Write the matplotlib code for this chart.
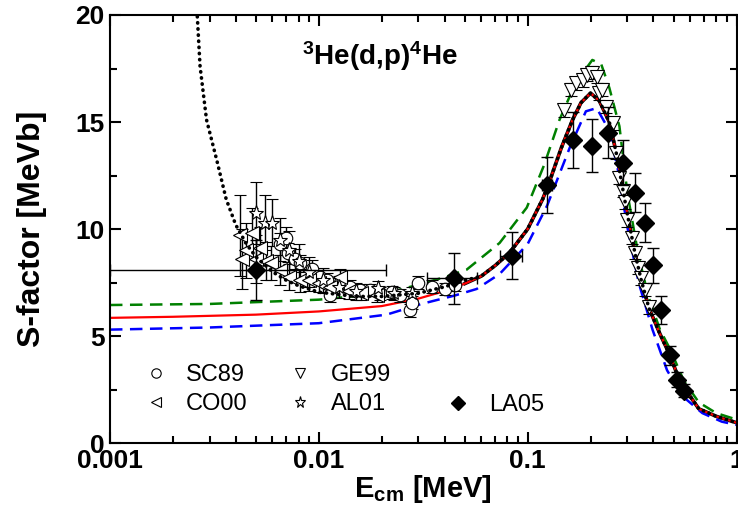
import numpy as np
import matplotlib
matplotlib.use("Agg")
import matplotlib.pyplot as plt
from matplotlib.ticker import FixedLocator, MultipleLocator, LogLocator, NullFormatter

plt.rcParams['font.family'] = ['Liberation Sans', 'DejaVu Sans']
plt.rcParams['mathtext.fontset'] = 'custom'
plt.rcParams['mathtext.rm'] = 'Liberation Sans:bold'
plt.rcParams['mathtext.default'] = 'rm'

# bare S-factor (red solid)
bare_e = [0.001, 0.002, 0.005, 0.01, 0.02, 0.03, 0.04, 0.05, 0.06, 0.07, 0.082, 0.1,
          0.118, 0.127, 0.145, 0.164, 0.18, 0.2, 0.22, 0.246, 0.265, 0.285, 0.3,
          0.326, 0.35, 0.381, 0.43, 0.48, 0.52, 0.56, 0.66, 0.8, 1.0]
bare_s = [5.85, 5.9, 6.0, 6.15, 6.4, 6.75, 7.1, 7.45, 7.8, 8.3, 8.9, 10.0,
          11.4, 12.2, 13.8, 15.1, 15.9, 16.35, 16.0, 15.0, 13.6, 11.9, 10.7,
          8.9, 7.6, 6.3, 5.1, 4.1, 3.2, 2.6, 1.6, 1.25, 0.95]

# upper / lower curves (dashed)
green_e = [0.001, 0.003, 0.01, 0.021, 0.03, 0.04, 0.051, 0.0734, 0.099, 0.12, 0.142,
           0.164, 0.184, 0.204, 0.225, 0.246, 0.275, 0.3, 0.34, 0.38, 0.43, 0.48,
           0.56, 0.66, 0.8, 1.0]
green_s = [6.45, 6.5, 6.7, 7.0, 7.4, 7.75, 8.1, 9.35, 11.0, 13.0, 15.1,
           16.5, 17.3, 17.9, 17.7, 16.6, 14.8, 11.7, 8.7, 6.8, 5.3, 4.4,
           2.9, 1.9, 1.4, 1.1]
blue_e = [0.001, 0.003, 0.01, 0.0211, 0.031, 0.045, 0.057, 0.0734, 0.1, 0.124, 0.159,
          0.19, 0.214, 0.246, 0.27, 0.3, 0.34, 0.396, 0.465, 0.55, 0.686, 0.85, 1.0]
blue_s = [5.3, 5.4, 5.6, 6.0, 6.5, 6.9, 7.2, 7.9, 9.3, 11.1, 13.8,
          15.5, 15.65, 14.6, 12.8, 10.1, 7.5, 5.3, 3.4, 2.2, 1.4, 1.0, 0.85]

# screened S-factor (black dotted), low-energy part
scr_e = [0.0026, 0.0027, 0.0029, 0.00325, 0.0036, 0.004, 0.0045, 0.005, 0.006, 0.007,
         0.008, 0.01, 0.015, 0.02, 0.03, 0.04, 0.05]
scr_s = [20.5, 17.6, 15.1, 13.2, 11.4, 10.2, 9.3, 8.7, 8.0, 7.6,
         7.35, 7.05, 6.85, 6.85, 7.0, 7.3, 7.6]

# data sets
sc_e = [0.0065, 0.0070, 0.0071, 0.0077, 0.0081, 0.0093, 0.0101, 0.0110, 0.0113, 0.0126,
        0.0141, 0.0157, 0.0175, 0.0196, 0.0225, 0.0245, 0.0272, 0.028, 0.0297, 0.035,
        0.040, 0.045]
sc_s = [9.3, 9.6, 8.9, 8.6, 8.4, 8.15, 7.75, 7.6, 6.9, 7.5,
        7.3, 7.15, 7.15, 7.0, 7.05, 6.9, 6.2, 6.55, 7.5, 7.3,
        7.2, 7.4]
sc_err = [0.5, 0.5, 0.45, 0.45, 0.4, 0.4, 0.35, 0.35, 0.3, 0.3,
          0.3, 0.3, 0.3, 0.3, 0.3, 0.3, 0.3, 0.3, 0.3, 0.3,
          0.3, 0.3]

co_e = [0.0042, 0.0043, 0.0045, 0.0048, 0.0050, 0.0052, 0.0056, 0.0059, 0.0065, 0.0072,
        0.0081, 0.0090, 0.0100, 0.0113, 0.0126, 0.014, 0.016, 0.019]
co_s = [9.7, 8.6, 9.0, 9.8, 8.6, 9.1, 8.5, 8.4, 8.1, 7.75,
        7.6, 7.6, 7.5, 7.3, 7.75, 7.1, 7.0, 6.9]
co_err = [1.9, 1.4, 1.3, 1.2, 1.1, 1.0, 0.9, 0.8, 0.7, 0.6,
          0.55, 0.5, 0.45, 0.4, 0.4, 0.35, 0.3, 0.3]

ge_e = [0.150, 0.162, 0.171, 0.184, 0.193, 0.204, 0.214, 0.22, 0.226, 0.238,
        0.255, 0.265, 0.275, 0.285, 0.291, 0.298, 0.315, 0.326, 0.336, 0.35,
        0.363, 0.381]
ge_s = [15.55, 16.5, 16.8, 16.95, 17.2, 17.3, 17.1, 16.35, 16.5, 15.7,
        14.95, 13.55, 12.4, 11.8, 11.25, 10.4, 9.6, 8.9, 8.2, 7.7,
        7.15, 6.35]
ge_err = [0.3] * len(ge_e)

al_e = [0.0050, 0.0055, 0.0060, 0.0065, 0.0072, 0.0080, 0.0090, 0.0105, 0.0125, 0.015,
        0.0191, 0.023, 0.028]
al_s = [10.75, 10.3, 10.3, 9.5, 9.0, 8.5, 8.0, 7.6, 7.3, 7.1,
        7.25, 7.0, 7.0]
al_err = [1.45, 1.3, 1.1, 1.0, 0.9, 0.8, 0.7, 0.6, 0.5, 0.4,
          0.3, 0.3, 0.3]

la_e = [0.005, 0.0445, 0.0843, 0.124, 0.164, 0.204, 0.242, 0.285, 0.326, 0.363,
        0.396, 0.436, 0.478, 0.52, 0.56]
la_s = [8.1, 7.7, 8.75, 12.05, 14.15, 13.9, 14.5, 13.1, 11.7, 10.3,
        8.3, 6.2, 4.1, 2.95, 2.45]
la_err = [1.4, 1.2, 1.1, 1.3, 1.3, 1.25, 1.2, 1.05, 0.9, 0.9,
          0.8, 0.65, 0.45, 0.35, 0.3]
la_xlo = [0.004, 0.0116, 0.0107, 0.007, 0, 0, 0, 0, 0, 0, 0, 0, 0, 0, 0]
la_xhi = [0.016, 0.013, 0.010, 0.007, 0, 0, 0, 0, 0, 0, 0, 0, 0, 0, 0]

bare_e = np.array(bare_e)
bare_s = np.array(bare_s)
scr_all_e = np.concatenate([scr_e, bare_e[bare_e >= 0.06]])
scr_all_s = np.concatenate([scr_s, bare_s[bare_e >= 0.06]])

fig = plt.figure(figsize=(7.38, 5.17), dpi=100)
ax = fig.add_axes([0.149, 0.143, 0.849, 0.828])

# curves
ax.plot(bare_e[bare_e >= 0.05], bare_s[bare_e >= 0.05], color='black', lw=2.6, zorder=2)
ax.plot(green_e, green_s, color='green', lw=1.8, dashes=(5, 3), zorder=2)
ax.plot(blue_e, blue_s, color='blue', lw=1.8, dashes=(5, 3), zorder=2)
ax.plot(bare_e, bare_s, color='red', lw=1.6, zorder=2)

eb_kw = dict(ecolor='black', elinewidth=1.0, capsize=4, capthick=1.0, linestyle='none')
h_sc = ax.errorbar(sc_e, sc_s, yerr=sc_err, marker='o', ms=9, mfc='white', mec='black',
                   mew=0.8, zorder=3, **eb_kw)
h_co = ax.errorbar(co_e, co_s, yerr=co_err, marker='<', ms=10, mfc='white', mec='black',
                   mew=0.8, zorder=3, **eb_kw)
h_al = ax.errorbar(al_e, al_s, yerr=al_err, marker='*', ms=11, mfc='white', mec='black',
                   mew=0.8, zorder=3, **eb_kw)
h_ge = ax.errorbar(ge_e, ge_s, yerr=ge_err, marker='v', ms=10, mfc='white', mec='black',
                   mew=0.8, zorder=3, **eb_kw)
h_la = ax.errorbar(la_e, la_s, yerr=la_err, xerr=[la_xlo, la_xhi], marker='D', ms=9,
                   mfc='black', mec='black', zorder=4, **eb_kw)

ax.plot(scr_all_e, scr_all_s, color='black', lw=2.6, linestyle=(0, (0.1, 1.6)),
        dash_capstyle='round', zorder=5)

ax.set_xscale('log')
ax.set_xlim(0.001, 1)
ax.set_ylim(0, 20)
ax.xaxis.set_major_locator(FixedLocator([0.001, 0.01, 0.1, 1]))
ax.set_xticklabels(['0.001', '0.01', '0.1', '1'])
ax.xaxis.set_minor_locator(LogLocator(base=10, subs=np.arange(2, 10)))
ax.xaxis.set_minor_formatter(NullFormatter())
ax.yaxis.set_major_locator(MultipleLocator(5))
ax.yaxis.set_minor_locator(MultipleLocator(2.5))

ax.tick_params(which='both', direction='in', top=True, right=True, width=1.5,
               labelsize=19, pad=4)
ax.tick_params(which='major', length=8)
ax.tick_params(which='minor', length=5)
for lab in ax.get_xticklabels() + ax.get_yticklabels():
    lab.set_fontweight('bold')
for sp in ax.spines.values():
    sp.set_linewidth(1.5)

ax.set_xlabel(r'E$_{\mathrm{cm}}$ [MeV]', fontsize=21, fontweight='bold', labelpad=0)
ax.set_ylabel('S-factor [MeVb]', fontsize=23, fontweight='bold', labelpad=20)
ax.text(0.43, 0.905, r'$^{3}$He(d,p)$^{4}$He', transform=ax.transAxes, fontsize=20,
        fontweight='bold', ha='center', va='center')

leg_kw = dict(loc='upper left', frameon=False, fontsize=17, markerscale=0.75,
              handlelength=1.0, handletextpad=0.8, labelspacing=0.3, borderpad=0)
leg1 = ax.legend([h_sc[0], h_co[0], h_ge[0], h_al[0]], ['SC89', 'CO00', 'GE99', 'AL01'],
                 ncol=2, bbox_to_anchor=(0.035, 0.212), columnspacing=1.7, **leg_kw)
ax.add_artist(leg1)
ax.legend([h_la[0]], ['LA05'], bbox_to_anchor=(0.518, 0.142), **leg_kw)

fig.savefig('out.png', dpi=100)
